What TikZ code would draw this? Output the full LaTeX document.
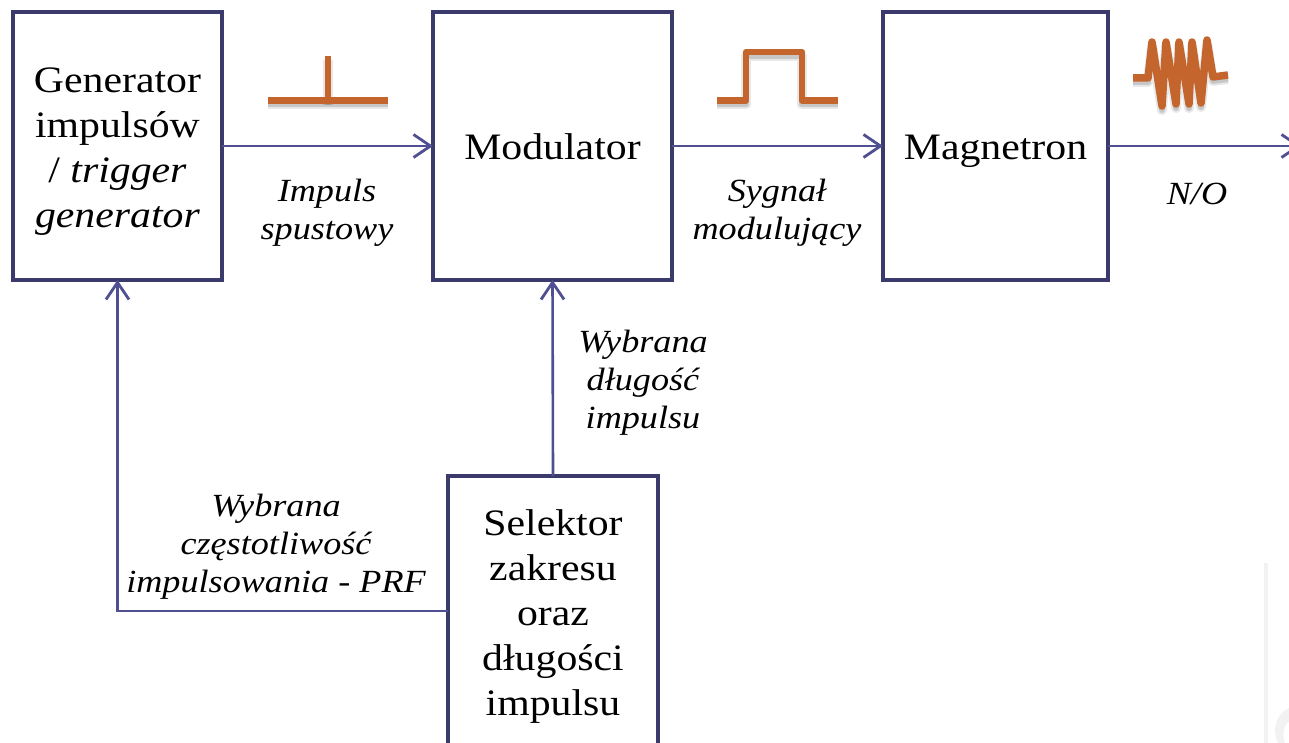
\documentclass[tikz,border=0pt]{standalone}
\usepackage{fontspec}
\setmainfont{Liberation Serif}[FakeStretch=1.12]
\usetikzlibrary{arrows.meta}
\definecolor{boxc}{HTML}{3B3A6C}
\definecolor{arrc}{HTML}{4F4F91}
\definecolor{wavec}{HTML}{C4652D}
\newcommand{\firstprop}{\rule{0pt}{41pt}}
\newcommand{\lastprop}{\rule[-13pt]{0pt}{13pt}}
\newcommand{\lastpropdeep}{\rule[-17pt]{0pt}{17pt}}
\tikzset{
  blockbox/.style={draw=boxc,line width=4pt,outer sep=0pt,inner sep=0pt,align=center,text=black,
    font=\fontsize{37.3}{45}\selectfont},
  flow/.style={draw=arrc,line width=2.6pt,-{Straight Barb[length=17pt,width=23pt,line width=2.8pt]}},
  sigtext/.style={align=center,text=black,inner sep=0pt,font=\fontsize{32.3}{38}\selectfont\itshape},
  wave/.style={draw=wavec,line width=7.5pt,line join=round},
  pulsewave/.style={draw=wavec,line width=6.5pt,line join=round},
  softshade/.style={draw=black,opacity=.09,line width=10pt,line join=round},
  coreshade/.style={draw=black,opacity=.14,line width=6pt,line join=round},
  shapeA/.style={insert path={(268,100.5) -- (388,100.5)}},
  shapeB/.style={insert path={(328,56) -- (328,101)}},
  shapeC/.style={insert path={(717,100.5) -- (746,100.5) -- (746,52) -- (802,52) -- (802,100.5) -- (838,100.5)}},
  shapeD/.style={insert path={(1133,78) -- (1148,78) -- (1152,42) -- (1162,106) -- (1166,42) -- (1176,104) -- (1179,42) -- (1189,104) -- (1192,42) -- (1201,103) -- (1207,40) -- (1213,77) -- (1228,75)}},
}
\begin{document}
\begin{tikzpicture}[x=1pt,y=-1pt]
\useasboundingbox (0,0) rectangle (1289,743);
\clip (0,0) rectangle (1289,743);
\fill[white] (0,0) rectangle (1289,743);
% faint remnant at the lower right corner
\fill[black!5] (1264,563) rectangle (1268,743);
\fill[black!5] (1289,708) .. controls (1275,715) and (1272,730) .. (1278,743) -- (1289,743) -- cycle;
\fill[white] (1289,722) .. controls (1283,726) and (1282,736) .. (1285,743) -- (1289,743) -- cycle;
% connector ends
\coordinate (out) at (1301,146);
% blocks
\node[blockbox,minimum width=209pt,minimum height=268pt] (gen) at (117.5,146)
  {\firstprop Generator\\impulsów\\/ \textit{trigger}\\\lastprop\textit{generator}};
\node[blockbox,minimum width=239pt,minimum height=268pt] (mod) at (552.5,146) {\firstprop\lastprop Modulator};
\node[blockbox,minimum width=225pt,minimum height=268pt] (mag) at (995.5,146) {\firstprop\lastprop Magnetron};
\node[blockbox,minimum width=210pt,minimum height=274pt] (sel) at (553,613)
  {\firstprop Selektor\\zakresu\\oraz\\długości\\\lastpropdeep impulsu};
% connectors
\draw[flow] (gen.east) -- (mod.west);
\draw[flow] (mod.east) -- (mag.west);
\draw[flow] (mag.east) -- (out);
\draw[flow] (sel.north) -- (mod.south);
\draw[flow] ([yshift=2pt]sel.west) -| (gen.south);
% labels
\node[sigtext] (l1) at (327,213) {Impuls\\spustowy};
\node[sigtext] (l2) at (777,213) {Sygnał\\modulujący};
\node[sigtext] (l3) at (1197,194) {N/O};
\node[sigtext] (l4) at (643,383) {Wybrana\\długość\\impulsu};
\node[sigtext] (l5) at (276,547) {Wybrana\\częstotliwość\\impulsowania - PRF};
% signal sketches: shadows
\begin{scope}[shift={(0,4)}]
\draw[softshade,shapeA];
\draw[softshade,shapeB];
\draw[softshade,shapeC];
\draw[softshade,shapeD];
\draw[coreshade,shapeA];
\draw[coreshade,shapeB];
\draw[coreshade,shapeC];
\draw[coreshade,shapeD];
\end{scope}
% signal sketches
\draw[pulsewave,shapeA];
\draw[pulsewave,shapeB];
\draw[pulsewave,shapeC];
\draw[wave,shapeD];
\end{tikzpicture}
\end{document}
